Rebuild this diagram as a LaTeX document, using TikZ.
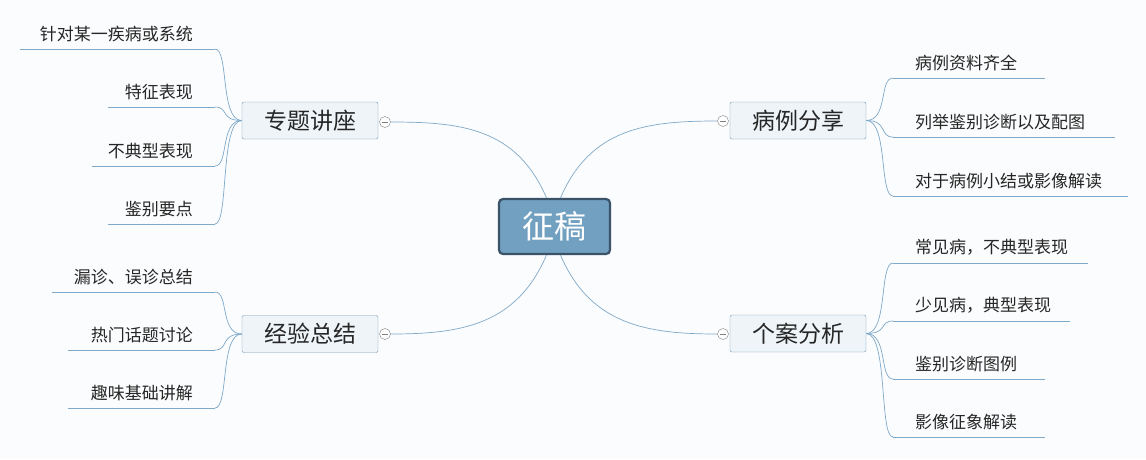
\documentclass[tikz,border=0pt]{standalone}
\usepackage{fontspec}
\setmainfont{Noto Sans CJK SC}
\usetikzlibrary{calc}
\definecolor{ln}{HTML}{7FA9C9}
\definecolor{bg}{HTML}{FBFCFD}
\definecolor{tf}{HTML}{EEF4F8}
\definecolor{cf}{HTML}{72A0C1}
\definecolor{cb}{HTML}{3B5369}
\tikzset{
 topic/.style={draw=ln!90!black,fill=tf,rounded corners=2pt,minimum width=136pt,minimum height=37pt,inner sep=0,font=\fontsize{23}{25}\selectfont,text=black!85},
 leafl/.style={anchor=south east,inner xsep=0,inner ysep=7pt,align=right,font=\fontsize{17}{19}\selectfont,text=black!85},
 leafr/.style={anchor=south west,inner xsep=0,inner ysep=7pt,align=left,font=\fontsize{17}{19}\selectfont,text=black!85},
 coll/.style={circle,draw=gray,fill=white,minimum size=11pt,inner sep=0,path picture={\draw[gray] ($(path picture bounding box.west)+(2.5pt,0)$)--($(path picture bounding box.east)+(-2.5pt,0)$);}},
 con/.style={draw=ln,line width=0.7pt},
}
\begin{document}
\begin{tikzpicture}[x=1pt,y=-1pt]
\fill[bg] (0,0) rectangle (1146,459);
\useasboundingbox (0,0) rectangle (1146,459);
\node[draw=cb,fill=cf,line width=2.2pt,rounded corners=4pt,minimum width=111pt,minimum height=55pt,text=white,font=\fontsize{32}{34}\selectfont] (ctr) at (554.5,226.5) {征稿};
\node[topic] (t1) at (310,120.5) {专题讲座};
\node[topic] (t2) at (798,120.5) {病例分享};
\node[topic] (t3) at (310,334) {经验总结};
\node[topic] (t4) at (798,333.5) {个案分析};
\node[coll] (c1) at (385,122) {};
\node[coll] (c2) at (723,121) {};
\node[coll] (c3) at (385,334) {};
\node[coll] (c4) at (723,334) {};
\draw[con] ($(ctr.north)+(-8,0)$) .. controls +(-30,-70) and +(70,0) .. (c1.east);
\draw[con] ($(ctr.north)+(6,0)$) .. controls +(30,-70) and +(-70,0) .. (c2.west);
\draw[con] ($(ctr.south)+(-8,0)$) .. controls +(-30,70) and +(70,0) .. (c3.east);
\draw[con] ($(ctr.south)+(6,0)$) .. controls +(30,70) and +(-70,0) .. (c4.west);
% left leaves of t1
\node[leafl,text width=195pt] (a1) at (215,49) {针对某一疾病或系统\hspace*{22pt}};
\node[leafl,text width=107pt] (a2) at (215,107) {特征表现\hspace*{22pt}};
\node[leafl,text width=123pt] (a3) at (215,166) {不典型表现\hspace*{22pt}};
\node[leafl,text width=107pt] (a4) at (215,224) {鉴别要点\hspace*{22pt}};
% left leaves of t3
\node[leafl,text width=163pt] (b1) at (215,292) {漏诊、误诊总结\hspace*{22pt}};
\node[leafl,text width=147pt] (b2) at (215,350) {热门话题讨论\hspace*{22pt}};
\node[leafl,text width=147pt] (b3) at (215,408) {趣味基础讲解\hspace*{22pt}};
% right leaves of t2
\node[leafr,text width=152pt] (d1) at (893,78) {\hspace*{22pt}病例资料齐全};
\node[leafr,text width=222pt] (d2) at (893,137) {\hspace*{22pt}列举鉴别诊断以及配图};
\node[leafr,text width=235pt] (d3) at (893,196) {\hspace*{22pt}对于病例小结或影像解读};
% right leaves of t4
\node[leafr,text width=195pt] (e1) at (893,263) {\hspace*{22pt}常见病，不典型表现};
\node[leafr,text width=177pt] (e2) at (893,321) {\hspace*{22pt}少见病，典型表现};
\node[leafr,text width=152pt] (e3) at (893,379) {\hspace*{22pt}鉴别诊断图例};
\node[leafr,text width=152pt] (e4) at (893,437) {\hspace*{22pt}影像征象解读};
\foreach \n in {a1,a2,a3,a4}{
 \draw[con] (\n.south west) -- (\n.south east);
 \draw[con] (t1.west) .. controls +(-22,0) and +(14,0) .. (\n.south east);}
\foreach \n in {b1,b2,b3}{
 \draw[con] (\n.south west) -- (\n.south east);
 \draw[con] (t3.west) .. controls +(-22,0) and +(14,0) .. (\n.south east);}
\foreach \n in {d1,d2,d3}{
 \draw[con] (\n.south west) -- (\n.south east);
 \draw[con] (t2.east) .. controls +(22,0) and +(-14,0) .. (\n.south west);}
\foreach \n in {e1,e2,e3,e4}{
 \draw[con] (\n.south west) -- (\n.south east);
 \draw[con] (t4.east) .. controls +(22,0) and +(-14,0) .. (\n.south west);}
\end{tikzpicture}
\end{document}
